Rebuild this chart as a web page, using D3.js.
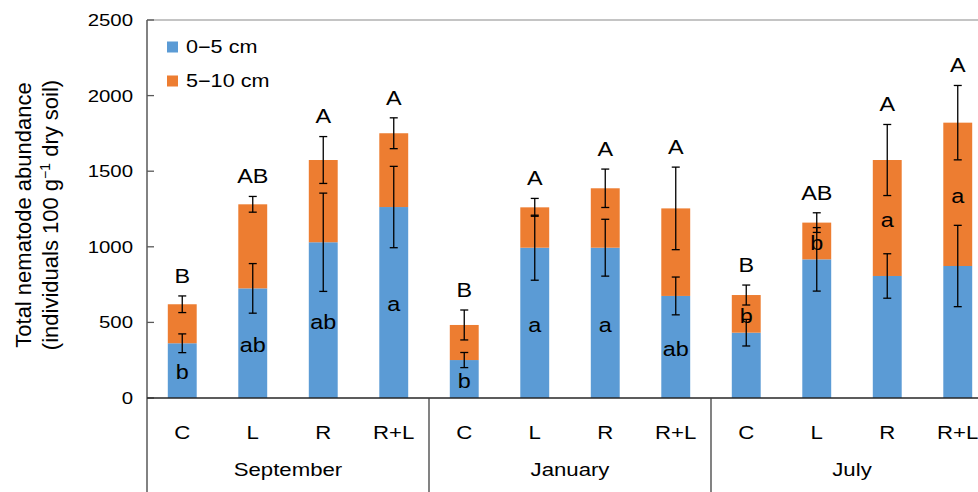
<!DOCTYPE html>
<html>
<head>
<meta charset="utf-8">
<script src="https://cdn.jsdelivr.net/npm/d3@7/dist/d3.min.js"></script>
<style>
  html, body { margin: 0; padding: 0; background: #fff; }
  svg { display: block; }
  text { font-family: "Liberation Sans", Arial, sans-serif; fill: #000; }
</style>
</head>
<body>
<svg id="chart" width="978" height="492"></svg>
<script>
// Sampling months and treatments
const months = ["September", "January", "July"];
const treatments = ["C", "L", "R", "R+L"];

// Mean abundance per layer (individuals 100 g^-1 dry soil), month-major order
const shallow = [362, 725, 1030, 1263, 251, 994, 994, 675, 432, 917, 807, 873];   // 0–5 cm
const deep    = [258, 556, 544, 488, 232, 267, 393, 579, 249, 243, 767, 948];     // 5–10 cm

// Standard errors per layer
const shallowSE = [62, 164, 325, 269, 50, 215, 188, 125, 88, 210, 147, 269];
const deepSE    = [55, 52, 155, 102, 99, 59, 127, 273, 66, 65, 235, 246];

// Significance letters: totals (upper case) and per-layer (lower case)
const totalLetters   = ["B", "AB", "A", "A", "B", "A", "A", "A", "B", "AB", "A", "A"];
const shallowLetters = ["b", "ab", "ab", "a", "b", "a", "a", "ab", "", "", "", ""];
const deepLetters    = ["", "", "", "", "", "", "", "", "b", "b", "a", "a"];

const yTicks = [0, 500, 1000, 1500, 2000, 2500];
const legendLabels = ["0\u22125 cm", "5\u221210 cm"];

const colors = ["#5B9BD5", "#ED7D31"];
const SX = 1.2; // horizontal widening applied to text glyphs

const svg = d3.select("#chart");
const plotLeft = 147, plotTop = 20, plotBottom = 398, bandEnd = 993;

const keys = [];
months.forEach(m => treatments.forEach(t => keys.push(m + "|" + t)));
const rows = keys.map((k, i) => ({
  key: k,
  month: k.split("|")[0],
  treat: k.split("|")[1],
  s: shallow[i], d: deep[i],
  sSE: shallowSE[i], dSE: deepSE[i],
  up: totalLetters[i], ls: shallowLetters[i], ld: deepLetters[i]
}));

const x = d3.scaleBand().domain(keys).range([plotLeft, bandEnd])
  .paddingInner(0.59).paddingOuter(0.295);
const y = d3.scaleLinear().domain([0, 2500]).range([plotBottom, plotTop]);

// Text helper: anchored group with horizontally widened glyphs
function label(parent, px, py, str, size, anchor) {
  const g = parent.append("g").attr("transform", `translate(${px},${py}) scale(${SX},1)`);
  g.append("text").attr("text-anchor", anchor || "middle")
    .attr("dy", "0.35em").style("font-size", size + "px").text(str);
  return g;
}

// Stacked bars
const stack = d3.stack().keys(["s", "d"])(rows);
const barG = svg.append("g");
stack.forEach((layer, li) => {
  barG.selectAll(null).data(layer).enter().append("rect")
    .attr("x", d => x(d.data.key))
    .attr("width", x.bandwidth())
    .attr("y", d => y(d[1]))
    .attr("height", d => y(d[0]) - y(d[1]))
    .attr("fill", colors[li]);
});

// Error bars: shallow layer at its own top, deep layer at the stack top
function errorBar(cx, v, se) {
  const g = svg.append("g").attr("stroke", "#000").attr("stroke-width", 1.3);
  g.append("line").attr("x1", cx).attr("x2", cx).attr("y1", y(v + se)).attr("y2", y(v - se));
  [v + se, v - se].forEach(e => g.append("line")
    .attr("x1", cx - 4).attr("x2", cx + 4).attr("y1", y(e)).attr("y2", y(e)));
}
rows.forEach(r => {
  const cx = x(r.key) + x.bandwidth() / 2;
  errorBar(cx, r.s, r.sSE);
  errorBar(cx, r.s + r.d, r.dSE);
});

// Significance letters
const letterG = svg.append("g");
rows.forEach(r => {
  const cx = x(r.key) + x.bandwidth() / 2;
  label(letterG, cx, y(r.s + r.d + r.dSE) - 20, r.up, 19.5);
  if (r.ls) label(letterG, cx, y(r.s / 2) + 2, r.ls, 19.5);
  if (r.ld) label(letterG, cx, y(r.s + r.d / 2) + 2, r.ld, 19.5);
});

// Plot frame top edge
svg.append("line").attr("x1", plotLeft).attr("x2", 978).attr("y1", plotTop).attr("y2", plotTop)
  .attr("stroke", "#8a8a8a").attr("stroke-width", 1.2);

// Y axis with inward ticks
const yAxis = svg.append("g");
yAxis.append("line").attr("x1", plotLeft).attr("x2", plotLeft).attr("y1", plotTop).attr("y2", 492)
  .attr("stroke", "#595959").attr("stroke-width", 1.5);
yTicks.forEach(t => {
  yAxis.append("line").attr("x1", plotLeft).attr("x2", plotLeft + 7).attr("y1", y(t)).attr("y2", y(t))
    .attr("stroke", "#595959").attr("stroke-width", 1.3);
  label(yAxis, plotLeft - 14, y(t), String(t), 17, "end");
});

// X axis baseline and group separators
svg.append("line").attr("x1", plotLeft).attr("x2", 978).attr("y1", plotBottom).attr("y2", plotBottom)
  .attr("stroke", "#262626").attr("stroke-width", 1.5);
months.forEach((m, i) => {
  if (i === 0) return;
  const sx = x(m + "|" + treatments[0]) - x.step() * x.paddingInner() / 2;
  svg.append("line").attr("x1", sx).attr("x2", sx).attr("y1", plotBottom).attr("y2", 492)
    .attr("stroke", "#404040").attr("stroke-width", 1.3);
});

// Category and month labels
const xLab = svg.append("g");
rows.forEach(r => label(xLab, x(r.key) + x.bandwidth() / 2, 433, r.treat, 18.5));
months.forEach(m => {
  const a = x(m + "|" + treatments[0]), b = x(m + "|" + treatments[treatments.length - 1]) + x.bandwidth();
  label(xLab, (a + b) / 2, 470, m, 18.5);
});

// Y axis title
const title = svg.append("g").attr("transform", "translate(0,215)");
title.append("text").attr("transform", "translate(31,0) rotate(-90)")
  .attr("text-anchor", "middle").style("font-size", "22px").text("Total nematode abundance");
const t2 = title.append("text").attr("transform", "translate(58,0) rotate(-90)")
  .attr("text-anchor", "middle").style("font-size", "22px");
t2.append("tspan").text("(individuals 100 g");
t2.append("tspan").attr("dy", -8).style("font-size", "14px").text("\u22121");
t2.append("tspan").attr("dy", 8).text(" dry soil)");

// Legend
const leg = svg.append("g");
legendLabels.forEach((l, i) => {
  const cy = 47 + i * 34;
  leg.append("rect").attr("x", 167).attr("y", cy - 5.5).attr("width", 11).attr("height", 11)
    .attr("fill", colors[i]);
  label(leg, 186, cy, l, 18, "start");
});
</script>
</body>
</html>
